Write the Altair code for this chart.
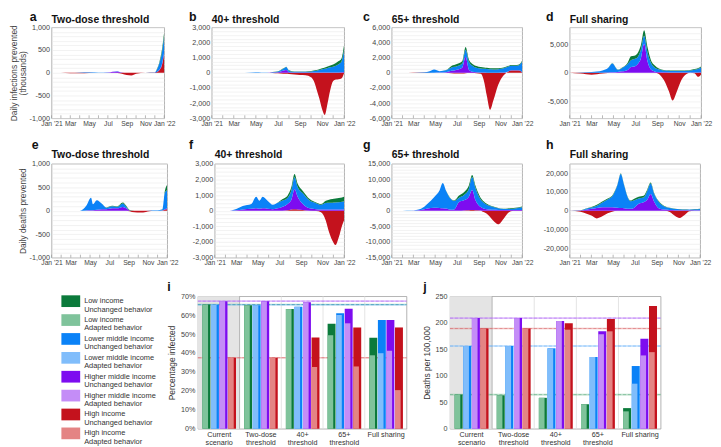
import json
import altair as alt
import pandas as pd

FONT = "Liberation Sans"
INCOMES = ["Low income", "Lower middle income", "Higher middle income", "High income"]
DARK = ["#0b7a3b", "#0a82f7", "#7d0cf0", "#c4121d"]
LIGHT = ["#7fc39b", "#80bdfb", "#c48df7", "#e48484"]
MONTH_LABELS = ["Jan '21", "Feb", "Mar", "Apr", "May", "Jun", "Jul", "Aug", "Sep", "Oct", "Nov", "Dec", "Jan '22"]
SCENARIO_LABELS = [["Current", "scenario"], ["Two-dose", "threshold"], ["40+", "threshold"],
                   ["65+", "threshold"], ["Full sharing"]]

# ---------- daily infections prevented (thousands), months since Jan 2021 ----------
A_X = [0, 1, 2, 3, 4, 5, 6, 6.5, 7, 7.5, 8, 8.5, 9, 10, 11, 11.25, 11.5, 11.75, 12]
A_HIGH = [0, 0, -10, -10, -5, 0, 0, 0, -5, -20, -50, -60, -20, 0, 5, 20, 60, 160, 430]
A_HMID = [0, 0, 0, 0, 0, 0, 5, 20, 30, 5, 0, 0, 0, 0, 0, 5, 10, 20, 30]
A_LMID = [0, 0, 0, 5, 10, 5, 5, 5, 5, 0, 0, 0, 0, 0, 5, 60, 150, 260, 360]
A_LOW = [0, 0, 0, 0, 0, 0, 0, 0, 0, 0, 0, 0, 0, 0, 0, 10, 30, 60, 90]

B_X = [0, 1, 2, 3, 4, 4.5, 5, 5.5, 6, 6.5, 6.75, 7, 7.5, 8, 8.5, 9, 9.25, 9.5, 9.75, 10, 10.25, 10.5, 10.75, 11, 11.25, 11.5, 11.75, 12]
B_HIGH = [0, 0, -5, -5, 0, 0, 0, -10, -30, -60, -60, -80, -120, -150, -160, -300, -550, -1100, -1700, -2400, -2780, -2000, -1100, -550, -450, -420, -380, 0]
B_HMID = [0, 0, 0, 0, 0, 0, 0, 10, 30, 150, 180, 40, 10, 10, 10, 10, 10, 10, 10, 10, 10, 20, 20, 20, 20, 20, 30, 50]
B_LMID = [0, 0, 0, 5, 30, 15, 10, 40, 60, 120, 200, 100, 50, 50, 60, 80, 100, 130, 170, 220, 260, 300, 340, 380, 450, 550, 700, 1500]
B_LOW = [0, 0, 0, 0, 0, 0, 0, 5, 10, 20, 20, 20, 20, 20, 20, 30, 40, 50, 60, 70, 80, 100, 120, 150, 180, 200, 200, 350]

C_X = [0, 1, 2, 3, 3.5, 3.9, 4.4, 5, 5.5, 6, 6.5, 6.8, 7.1, 7.4, 7.8, 8.2, 8.5, 8.75, 9.05, 9.35, 9.8, 10.3, 10.7, 11, 11.5, 11.8, 12]
C_HIGH = [0, 0, -20, -30, -20, 0, 0, 0, -50, -100, -100, -50, -20, -20, -50, -125, -1170, -3040, -4900, -3670, -1580, -330, 150, 300, 300, 250, 0]
C_HMID = [0, 0, 0, 0, 0, 10, 20, 80, 250, 400, 700, 2100, 400, 150, 80, 40, 20, 10, 10, 10, 10, 20, 30, 40, 40, 50, 60]
C_LMID = [0, 0, 0, 60, 200, 410, 190, 240, 450, 450, 550, 950, 1050, 800, 570, 520, 500, 480, 440, 430, 470, 580, 620, 580, 580, 780, 1415]
C_LOW = [0, 0, 0, 0, 0, 0, 0, 30, 200, 300, 300, 350, 300, 250, 250, 200, 180, 160, 150, 140, 120, 100, 100, 120, 120, 120, 150]

D_X = [0, 1, 2, 3, 3.5, 3.9, 4.4, 4.8, 5.3, 5.6, 5.9, 6.2, 6.5, 6.8, 7.1, 7.4, 7.8, 8.1, 8.6, 9.05, 9.4, 9.8, 10.2, 10.7, 11, 11.4, 11.7, 12]
D_HIGH = [0, -150, -330, -150, -50, 0, 0, 0, 0, 0, 0, 0, 0, 0, 0, 0, 0, -170, -1280, -3220, -4890, -3220, -1280, -170, 0, -100, -720, -300]
D_HMID = [0, 0, 0, 20, 50, 80, 150, 250, 500, 1000, 1100, 1500, 2500, 5100, 2050, 600, 200, 120, 80, 60, 50, 50, 50, 50, 50, 50, 60, 80]
D_LMID = [0, 50, 120, 370, 780, 1570, 375, 610, 1030, 1190, 1300, 1240, 1530, 1400, 1610, 1230, 620, 480, 300, 290, 260, 260, 260, 300, 350, 470, 590, 830]
D_LOW = [0, 0, 0, 0, 0, 20, 30, 80, 250, 700, 600, 700, 800, 1000, 900, 500, 400, 200, 120, 100, 80, 80, 80, 100, 100, 150, 150, 200]

# ---------- daily deaths prevented ----------
E_X = [0, 1, 2, 2.95, 3.6, 4.1, 4.3, 4.7, 5.2, 5.7, 6.3, 6.8, 7.4, 7.75, 8.1, 8.6, 9.2, 9.8, 10.5, 11, 11.5, 11.75, 12]
E_HIGH = [0, 0, 0, 0, 0, 0, 0, 0, 0, 0, 0, 0, 0, 0, -10, -35, -40, -25, 0, 0, 5, 20, 30]
E_HMID = [0, 0, 0, 0, 5, 10, 10, 20, 30, 30, 50, 50, 80, 50, 5, 0, 0, 0, 0, 0, 0, 10, 20]
E_LMID = [0, 0, 0, 0, 99, 268, 130, 202, 123, 35, 44, 30, 74, 34, 0, 0, 0, 0, 10, 10, 20, 346, 385]
E_LOW = [0, 0, 0, 0, 0, 0, 0, 0, 0, 5, 10, 10, 20, 20, 9, 0, 0, 0, 0, 0, 5, 40, 120]

F_X = [0, 1, 1.4, 2, 2.6, 3.4, 3.85, 4.15, 4.45, 4.9, 5.4, 5.85, 6.3, 6.75, 7.1, 7.4, 7.7, 8.15, 8.8, 9.4, 9.85, 10.3, 10.6, 10.9, 11.2, 11.5, 11.8, 12]
F_HIGH = [0, 0, 0, 0, 0, 0, 0, 0, 0, 0, 0, 0, 0, 30, 80, 100, 80, 50, 0, -20, -100, -640, -1380, -1900, -2190, -1700, -960, -600]
F_HMID = [0, 0, 0, 30, 80, 120, 150, 130, 150, 130, 100, 150, 250, 400, 600, 1280, 800, 400, 150, 100, 80, 80, 80, 80, 80, 80, 80, 80]
F_LMID = [0, 0, 0, 76, 220, 305, 740, 510, 740, 510, 280, 360, 395, 380, 610, 760, 620, 680, 495, 380, 295, 410, 420, 435, 450, 460, 490, 530]
F_LOW = [0, 0, 0, 0, 0, 0, 0, 0, 0, 0, 0, 20, 100, 150, 200, 200, 200, 150, 100, 50, 50, 150, 200, 230, 250, 270, 280, 280]

G_X = [0, 1, 1.8, 2.7, 3.3, 3.9, 4.4, 4.7, 5, 5.45, 5.75, 6.2, 6.65, 7.1, 7.4, 7.7, 8.15, 8.45, 8.75, 9.05, 9.35, 9.8, 10.3, 10.7, 11.2, 12]
G_HIGH = [0, 0, 0, 0, 0, 0, 0, 0, 0, 0, 0, 0, 100, 150, 200, 150, 100, -420, -1000, -2000, -3200, -4330, -2540, -740, 0, 0]
G_HMID = [0, 0, 0, 200, 700, 950, 900, 800, 700, 300, 400, 2750, 3200, 4330, 6450, 3280, 1160, 700, 500, 400, 300, 250, 200, 200, 200, 250]
G_LMID = [0, 0, 50, 430, 1500, 3380, 5550, 8080, 5700, 3400, 2680, 1410, 1720, 2550, 4150, 3900, 2470, 1900, 1420, 1100, 920, 500, 330, 350, 450, 820]
G_LOW = [0, 0, 0, 0, 0, 0, 0, 0, 50, 100, 200, 700, 900, 1000, 600, 700, 600, 400, 300, 200, 150, 150, 100, 150, 200, 300]

H_X = [0, 1, 1.5, 2, 2.5, 3, 3.5, 3.9, 4.4, 4.7, 5, 5.3, 5.6, 5.9, 6.35, 6.8, 7.15, 7.45, 7.75, 8.15, 8.75, 9.2, 9.7, 10.1, 10.6, 11, 11.5, 12]
H_HIGH = [0, -500, -1500, -2600, -4100, -3000, -1300, -500, 0, 0, 0, 0, 0, 0, 0, 0, 0, 0, 0, 0, 0, -700, -2780, -3830, -2090, -350, 0, 0]
H_HMID = [0, 100, 500, 1000, 1500, 1800, 1900, 1900, 1600, 1400, 1300, 1100, 1000, 1500, 3650, 4500, 5900, 8870, 5000, 1500, 600, 400, 300, 250, 200, 200, 200, 250]
H_LMID = [0, 100, 600, 700, 1200, 2600, 4100, 5600, 12190, 18130, 12490, 6600, 4090, 3960, 2830, 2500, 4780, 5590, 4240, 3490, 1530, 1000, 590, 550, 450, 400, 550, 640]
H_LOW = [0, 0, 100, 300, 500, 500, 500, 500, 300, 300, 300, 300, 300, 800, 1000, 1000, 800, 500, 500, 400, 300, 200, 150, 100, 100, 100, 100, 150]

# ---------- bar charts: scenarios x income groups ----------
INF_U_LOW = [65.6, 65.2, 63.2, 55.4, 48.0]
INF_A_LOW = [65.6, 65.2, 63.2, 49.4, 38.8]
INF_U_LMID = [65.5, 65.2, 64.4, 61.0, 57.4]
INF_A_LMID = [65.5, 65.2, 64.4, 60.1, 39.9]
INF_U_HMID = [67.4, 67.3, 66.8, 63.4, 57.4]
INF_A_HMID = [67.4, 67.3, 66.8, 55.7, 41.2]
INF_U_HIGH = [37.5, 37.5, 48.2, 53.5, 53.5]
INF_A_HIGH = [37.5, 37.5, 32.6, 32.9, 20.4]

DTH_U_LOW = [64.4, 63.1, 58.3, 46.2, 38.9]
DTH_A_LOW = [64.4, 63.1, 58.3, 46.2, 32.8]
DTH_U_LMID = [156, 156, 151.7, 135.3, 118.3]
DTH_A_LMID = [156, 156, 151.7, 135.3, 85]
DTH_U_HMID = [208.7, 208.7, 203.2, 183.8, 170]
DTH_A_HMID = [208.7, 208.7, 203.2, 178.3, 138.3]
DTH_U_HIGH = [189, 189, 199, 206.9, 231.8]
DTH_A_HIGH = [189, 189, 186.9, 183.8, 144.5]


def label_layer(text, dx, dy, size):
    return alt.Chart(pd.DataFrame({"t": [text]})).mark_text(
        align="left", baseline="alphabetic", fontSize=size, fontWeight="bold", color="#111"
    ).encode(text="t:N", x=alt.value(dx), y=alt.value(dy))


def area_panel(xs, low, lmid, hmid, high, ymax, major, minor, w, h, title, letter,
               letter_dx, letter_dy, title_dy, ytitle=None):
    recs = []
    for order, (name, vals) in enumerate(zip(INCOMES[::-1], [high, hmid, lmid, low])):
        for m, v in zip(xs, vals):
            recs.append({"m": m, "v": v, "g": name, "o": order})
    df = pd.DataFrame(recs)
    x_enc = alt.X("m:Q", scale=alt.Scale(domain=[0, 12], nice=False, zero=False),
                  axis=alt.Axis(values=list(range(0, 13, 2)),
                                labelExpr=json.dumps(MONTH_LABELS) + "[datum.value]",
                                ticks=False, domain=False, grid=False, labelFlush=False,
                                labelOverlap=False, labelPadding=2, labelFontSize=6.8,
                                labelColor="#444", title=None))
    lab = ("datum.value % " + str(major) + " == 0 ? (datum.value < 0 ? '-' : '') + "
           "format(abs(datum.value), ',') : ''")
    yk = dict(values=list(range(-ymax, ymax + 1, minor)), labelExpr=lab, ticks=False,
              domain=False, grid=True, gridColor="#e9e9e9", gridWidth=0.6, labelPadding=2,
              labelFontSize=7.3, labelColor="#444", labelOverlap=False)
    if ytitle is not None:
        yk.update(title=ytitle, titleFontSize=8.5, titleFontWeight="normal", titleColor="#444",
                  titlePadding=2, titleLineHeight=9)
    else:
        yk.update(title=None)
    area = alt.Chart(df).mark_area(interpolate="monotone", clip=True).encode(
        x=x_enc,
        y=alt.Y("v:Q", stack="zero", scale=alt.Scale(domain=[-ymax, ymax], nice=False, zero=False),
                axis=alt.Axis(**yk)),
        color=alt.Color("g:N", scale=alt.Scale(domain=INCOMES, range=DARK), legend=None),
        order=alt.Order("o:Q", sort="ascending"),
    )
    ticks = alt.Chart(pd.DataFrame({"m": list(range(13))})).mark_rule(
        color="#999", strokeWidth=0.7).encode(x=x_enc, y=alt.value(h), y2=alt.value(h - 3))
    return alt.layer(area, ticks, label_layer(letter, letter_dx, letter_dy, 12.5),
                     label_layer(title, 0, title_dy, 10.5)).properties(width=w, height=h)


LEFT, STEP, DW, LW = 0.11, 0.205, 0.19, 0.135


def color_scale():
    return alt.Scale(domain=[i + " U" for i in INCOMES] + [i + " A" for i in INCOMES],
                     range=DARK + LIGHT)


def bar_panel(us, as_, ymax, step, pct, ytitle, w, h, letter, letter_dx):
    recs = []
    for k, (inc, ul, al) in enumerate(zip(INCOMES, us, as_)):
        for s, (u, a) in enumerate(zip(ul, al)):
            recs.append({"s": s, "k": k, "u": u, "a": a, "cu": inc + " U", "ca": inc + " A"})
    df = pd.DataFrame(recs)
    cscale = color_scale()
    xscale = alt.Scale(domain=[-0.5, 4.5], nice=False, zero=False)
    yscale = alt.Scale(domain=[0, ymax], nice=False)
    xaxis = alt.Axis(values=[0, 1, 2, 3, 4], labelExpr=json.dumps(SCENARIO_LABELS) + "[datum.value]",
                     ticks=False, domain=False, grid=False, labelFontSize=7.3, labelLineHeight=7.8,
                     labelBaseline="top", labelPadding=2, labelColor="#333", labelFlush=False,
                     labelOverlap=False, title=None)
    ylab = "datum.value + '%'" if pct else "format(datum.value, 'd')"
    yaxis = alt.Axis(values=list(range(0, ymax + 1, step)), labelExpr=ylab, ticks=False,
                     domain=False, grid=False, labelFontSize=7.3, labelColor="#444", labelPadding=3,
                     title=ytitle, titleFontSize=8.5, titleFontWeight="normal", titleColor="#333",
                     titlePadding=4)
    bg = alt.Chart(pd.DataFrame({"x0": [-0.5], "x1": [0.5], "y0": [0], "y1": [ymax]})).mark_rect(
        color="#e4e4e4").encode(x=alt.X("x0:Q", scale=xscale, axis=xaxis), x2="x1:Q",
                                y=alt.Y("y0:Q", scale=yscale, axis=yaxis), y2="y1:Q")
    seps = alt.Chart(pd.DataFrame({"b": [0.5, 1.5, 2.5, 3.5]})).mark_rule(strokeWidth=0.8).encode(
        x=alt.X("b:Q", scale=xscale, axis=xaxis), y=alt.value(0), y2=alt.value(h),
        color=alt.condition("datum.b == 0.5", alt.value("#a8a8a8"), alt.value("#dddddd")))
    refs = pd.DataFrame({"val": [ul[0] for ul in us], "cu": [i + " U" for i in INCOMES],
                         "ca": [i + " A" for i in INCOMES]})
    ref_l = alt.Chart(refs).mark_rule(strokeWidth=1.6, opacity=0.55).encode(
        y=alt.Y("val:Q", scale=yscale, axis=yaxis), x=alt.value(0), x2=alt.value(w),
        color=alt.Color("ca:N", scale=cscale, legend=None))
    ref_d = alt.Chart(refs).mark_rule(strokeWidth=0.6, strokeDash=[3, 2], opacity=0.45).encode(
        y=alt.Y("val:Q", scale=yscale, axis=yaxis), x=alt.value(0), x2=alt.value(w),
        color=alt.Color("cu:N", scale=cscale, legend=None))
    base = alt.Chart(df).transform_calculate(
        x0="datum.s - 0.5 + %g + datum.k * %g" % (LEFT, STEP),
        x1="datum.s - 0.5 + %g + datum.k * %g" % (LEFT + DW, STEP),
        x1l="datum.s - 0.5 + %g + datum.k * %g" % (LEFT + LW, STEP))
    dark = base.mark_rect().encode(
        x=alt.X("x0:Q", scale=xscale, axis=xaxis), x2="x1:Q",
        y=alt.Y("u:Q", scale=yscale, axis=yaxis), y2=alt.datum(0),
        color=alt.Color("cu:N", scale=cscale, legend=None))
    light = base.mark_rect().encode(
        x=alt.X("x0:Q", scale=xscale, axis=xaxis), x2="x1l:Q",
        y=alt.Y("a:Q", scale=yscale, axis=yaxis), y2=alt.datum(0),
        color=alt.Color("ca:N", scale=cscale, legend=None))
    return alt.layer(bg, seps, ref_l, ref_d, dark, light,
                     label_layer(letter, letter_dx, -5, 12.5)).properties(width=w, height=h)


def legend_panel(w, h):
    labels, keys = [], []
    for inc in INCOMES:
        labels += [inc + "\nUnchanged behavior", inc + "\nAdapted behavior"]
        keys += [inc + " U", inc + " A"]
    df = pd.DataFrame({"k": list(range(8)), "label": labels, "key": keys})
    ys = alt.Scale(domain=[-0.262, 6.754], reverse=True, nice=False, zero=False)
    sw = alt.Chart(df).transform_calculate(y0="datum.k - 0.31", y1="datum.k + 0.31").mark_rect().encode(
        x=alt.value(10), x2=alt.value(29), y=alt.Y("y0:Q", scale=ys, axis=None), y2="y1:Q",
        color=alt.Color("key:N", scale=color_scale(), legend=None))
    tx = alt.Chart(df).mark_text(align="left", baseline="middle", lineBreak="\n", fontSize=7.5,
                                 lineHeight=8.5, color="#333").encode(
        x=alt.value(33), y=alt.Y("k:Q", scale=ys, axis=None), text="label:N")
    return alt.layer(sw, tx).properties(width=w, height=h,
                                        view=alt.ViewBackground(strokeOpacity=0))


H1, H2, H3 = 92, 95, 134
a = area_panel(A_X, A_LOW, A_LMID, A_HMID, A_HIGH, 1000, 500, 100, 114, H1, "Two-dose threshold", "a",
               -22, -6, -4, ["Daily infections prevented", "(thousands)"])
b = area_panel(B_X, B_LOW, B_LMID, B_HMID, B_HIGH, 3000, 1000, 250, 134, H1, "40+ threshold", "b",
               -23, -6, -4)
c = area_panel(C_X, C_LOW, C_LMID, C_HMID, C_HIGH, 6000, 2000, 500, 132, H1, "65+ threshold", "c",
               -29, -6, -4)
d = area_panel(D_X, D_LOW, D_LMID, D_HMID, D_HIGH, 8000, 5000, 1000, 133, H1, "Full sharing", "d",
               -24, -6, -4)
e = area_panel(E_X, E_LOW, E_LMID, E_HMID, E_HIGH, 1000, 500, 100, 117, H2, "Two-dose threshold", "e",
               -20, -15, -6, "Daily deaths prevented")
f = area_panel(F_X, F_LOW, F_LMID, F_HMID, F_HIGH, 3000, 1000, 250, 131, H2, "40+ threshold", "f",
               -26, -15, -6)
g = area_panel(G_X, G_LOW, G_LMID, G_HMID, G_HIGH, 15000, 5000, 1000, 132, H2, "65+ threshold", "g",
               -29, -15, -6)
h = area_panel(H_X, H_LOW, H_LMID, H_HMID, H_HIGH, 25000, 10000, 2500, 132, H2, "Full sharing", "h",
               -24, -15, -6)

leg = legend_panel(104, H3)
pi = bar_panel([INF_U_LOW, INF_U_LMID, INF_U_HMID, INF_U_HIGH],
               [INF_A_LOW, INF_A_LMID, INF_A_HMID, INF_A_HIGH],
               70, 10, True, "Percentage infected", 211, H3, "i", -31)
pj = bar_panel([DTH_U_LOW, DTH_U_LMID, DTH_U_HMID, DTH_U_HIGH],
               [DTH_A_LOW, DTH_A_LMID, DTH_A_HMID, DTH_A_HIGH],
               250, 50, False, "Deaths per 100,000", 213, H3, "j", -27)

row1 = alt.hconcat(a, b, c, d, spacing=48, bounds="flush").resolve_scale(color="independent")
row2 = alt.hconcat(e, f, g, h, spacing=48, bounds="flush").resolve_scale(color="independent")
row3 = alt.hconcat(leg, pi, pj, spacing=44, bounds="flush").resolve_scale(color="independent")
top = alt.vconcat(row1, row2, spacing=10).resolve_scale(color="independent")
chart = alt.vconcat(top, row3, spacing=13).resolve_scale(color="independent").properties(
    padding=0).configure(font=FONT).configure_view(stroke="#a0a0a0", strokeWidth=0.8)

chart.save("out.html", embed_options={"renderer": "svg", "actions": False})
